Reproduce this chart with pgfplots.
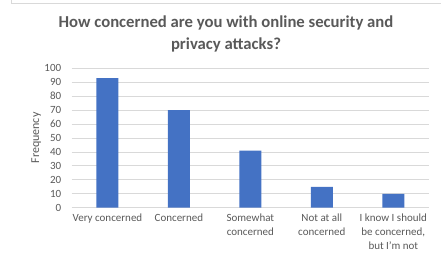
\documentclass[border=0pt]{standalone}
\usepackage{pgfplots}
\pgfplotsset{compat=1.18}
\usepackage{fontspec}
\setmainfont{Carlito}
\definecolor{txt}{HTML}{595959}
\definecolor{grd}{HTML}{D9D9D9}
\definecolor{bar}{HTML}{4472C4}
\begin{document}
\begin{tikzpicture}
\begin{axis}[
  name=ax,
  scale only axis, width=357.3pt, height=139.4pt,
  ybar, bar width=22pt,
  xmin=-0.5, xmax=4.5, ymin=0, ymax=100,
  ytick={0,10,...,100},
  xtick=data,
  xticklabels={Very concerned, Concerned, {Somewhat\\concerned}, {Not at all\\concerned}, {I know I should\\be concerned,\\but I'm not}},
  major tick length=0pt,
  ymajorgrids, grid style={grd, line width=0.8pt},
  axis line style={draw=none},
  tick label style={text=txt, font=\fontsize{11}{14}\selectfont},
  yticklabel style={xshift=-7pt},
  xticklabel style={align=center, yshift=-3pt},
  ylabel={Frequency},
  every axis y label/.style={at={(axis description cs:-0.099,0.5)}, rotate=90, anchor=center, text=txt, font=\fontsize{12}{14}\selectfont},
  /pgf/number format/assume math mode=true,
  clip=false,
]
\addplot[fill=bar, draw=none] coordinates {(0,93) (1,70) (2,41) (3,15) (4,10)};
\end{axis}
\begin{scope}[shift={(ax.south west)}, x=1pt, y=1pt]
\useasboundingbox (-71.7,-54.3) rectangle (369.3,207.7);
\draw[grd, line width=0.8pt] (-60.2,207.7) -- (-60.2,204.4) -- (369.3,204.4);
\node[align=center, text=txt, font=\fontsize{16.7}{22}\selectfont\bfseries] at (154.3,173.7) {How concerned are you with online security and\\privacy attacks?};
\end{scope}
\end{tikzpicture}
\end{document}
